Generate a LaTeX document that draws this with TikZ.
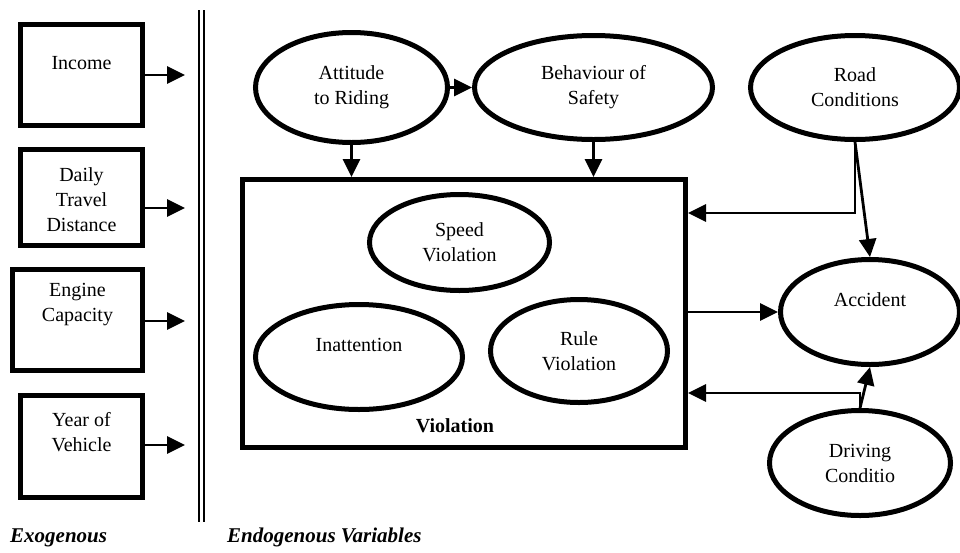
\documentclass[tikz,border=0pt]{standalone}
\usepackage{fontspec}
\setmainfont{Liberation Serif}
\usetikzlibrary{arrows.meta,shapes.geometric}
\begin{document}
\begin{tikzpicture}[x=1pt,y=-1pt,
  every node/.style={font=\fontsize{20}{25}\selectfont, align=center},
  xbox/.style={draw, line width=5pt, rectangle, inner sep=0pt},
  vbox/.style={draw, line width=5pt, rectangle, inner sep=0pt},
  ell/.style={draw, line width=5pt, ellipse, inner sep=0pt},
  txt/.style={inner sep=0pt},
  arr/.style={line width=2.8pt, -{Triangle[length=18pt,width=17pt]}},
  sep/.style={line width=1.5pt},
  foot/.style={font=\fontsize{21}{25}\selectfont\bfseries\itshape, inner sep=0pt, anchor=base west}]
\useasboundingbox (0,0) rectangle (960,552);

% exogenous boxes
\node[xbox, minimum width=122, minimum height=101] (inc) at (81.5,75) {};
\node[txt] (inct) at (81.5,63) {Income};
\node[xbox, minimum width=122, minimum height=96] (dtd) at (81.5,197.5) {};
\node[txt] (dtdt) at (81.5,200) {Daily\\Travel\\Distance};
\node[xbox, minimum width=130, minimum height=101] (eng) at (77.5,320) {};
\node[txt] (engt) at (77.5,305) {Engine\\Capacity};
\node[xbox, minimum width=122, minimum height=102] (yov) at (81.5,446.5) {};
\node[txt] (yovt) at (81.5,432.5) {Year of\\Vehicle};

\coordinate (a1) at (185,75);
\coordinate (a2) at (185,208);
\coordinate (a3) at (185,321);
\coordinate (a4) at (185,445);
\draw[arr] (inc.east |- a1) -- (a1);
\draw[arr] (dtd.east |- a2) -- (a2);
\draw[arr] (eng.east |- a3) -- (a3);
\draw[arr] (yov.east |- a4) -- (a4);

% separator
\coordinate (s1t) at (199,10);
\coordinate (s1b) at (199,522);
\coordinate (s2t) at (204,10);
\coordinate (s2b) at (204,522);
\draw[sep] (s1t) -- (s1b);
\draw[sep] (s2t) -- (s2b);

% endogenous
\node[ell, minimum width=192, minimum height=110] (att) at (351.5,87.5) {Attitude\\to Riding};
\node[ell, minimum width=238, minimum height=104] (beh) at (593.5,87.5) {Behaviour of\\Safety};
\node[ell, minimum width=209, minimum height=104] (road) at (855,87.5) {Road\\Conditions};

\node[vbox, minimum width=443, minimum height=268] (vio) at (464,313.5) {};
\node[ell, minimum width=180, minimum height=96] (spd) at (459.5,242.5) {Speed\\Violation};
\node[ell, minimum width=207, minimum height=105] (ina) at (359,357) {Inattention\\\mbox{}};
\node[ell, minimum width=177, minimum height=103] (rul) at (579,351) {Rule\\Violation};
\node[txt, font=\fontsize{20}{25}\selectfont\bfseries, anchor=base] (viot) at (455,432) {Violation};

\node[ell, minimum width=179, minimum height=105] (acc) at (870,312) {Accident\\\mbox{}};
\node[ell, minimum width=181, minimum height=105] (drv) at (860,463) {Driving\\Conditio};

% connectors
\draw[arr] (att.east) -- (beh.west);
\draw[arr] (att.south) -- (att.south |- vio.north);
\draw[arr] (beh.south) -- (beh.south |- vio.north);
\coordinate (r1) at (858,213);
\draw[arr] (road.south) |- (vio.east |- r1);
\draw[arr] (road.south) -- (acc.north);
\draw[arr] (vio.east |- acc.west) -- (acc.west);
\coordinate (d1) at (860,393);
\draw[arr] (drv.north) |- (vio.east |- d1);
\draw[arr] (drv.north) -- (acc.south);

% footers
\node[foot] (exo) at (10,542) {Exogenous};
\node[foot] (endo) at (227,542) {Endogenous Variables};
\end{tikzpicture}
\end{document}
